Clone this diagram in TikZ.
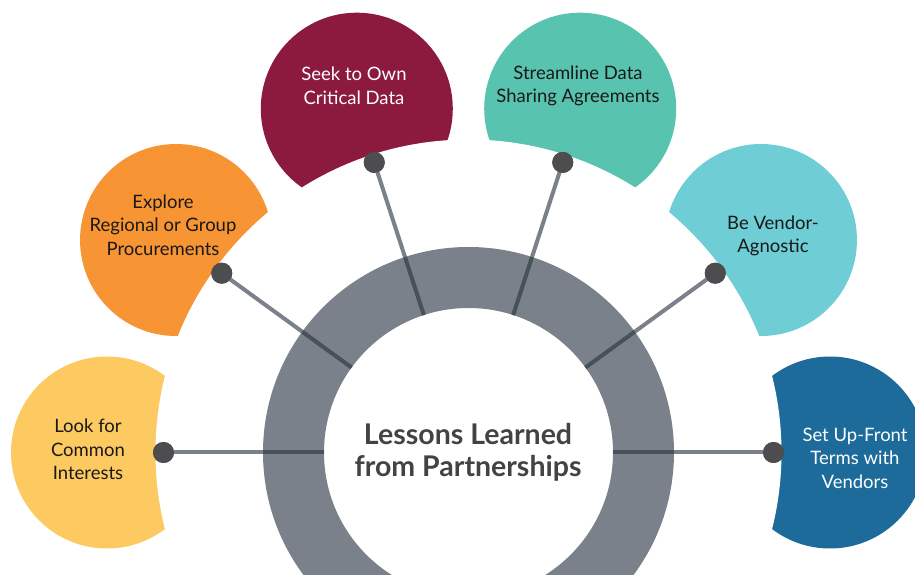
\documentclass[tikz,border=0pt]{standalone}
\usepackage{fontspec}
\setmainfont{Lato}
\definecolor{yellowc}{HTML}{FDC961}
\definecolor{orangec}{HTML}{F79433}
\definecolor{maroonc}{HTML}{8C1A3F}
\definecolor{tealc}{HTML}{58C3AF}
\definecolor{lightbluec}{HTML}{6ECDD5}
\definecolor{bluec}{HTML}{1D6B9B}
\definecolor{ringc}{HTML}{7B818A}
\definecolor{linedark}{HTML}{46515A}
\definecolor{dotc}{HTML}{4D4D4F}
\definecolor{centertext}{HTML}{434343}
\tikzset{
  dotst/.style={circle, fill=dotc, minimum size=21pt, inner sep=0pt},
  outline/.style={draw=ringc, line width=4pt},
  inline/.style={draw=linedark, line width=4pt},
  ptext/.style={align=center, font=\fontsize{18.5}{23.5}\selectfont, text=black!90},
  ctext/.style={align=center, font=\fontsize{28.5}{32}\selectfont\bfseries, text=centertext}
}
\begin{document}
\begin{tikzpicture}[x=1pt,y=1pt]
\useasboundingbox (0,0) rectangle (915,575);
\clip (0,0) rectangle (915,575);
\begin{scope}[shift={(468.5,122.5)}]
  % petals
  \fill[yellowc] (180:361.5) circle (96);
  \fill[orangec] (144:361.5) circle (96);
  \fill[maroonc] (108:361.5) circle (96);
  \fill[tealc] (72:361.5) circle (96);
  \fill[lightbluec] (36:361.5) circle (96);
  \fill[bluec] (0:361.5) circle (96);
  % concave cut
  \fill[white] (0,0) circle (313);
  % ring
  \node[circle, minimum size=289pt, inner sep=0pt] (center) at (0,0) {};
  \fill[ringc, even odd rule] (0,0) circle (205.5) (0,0) circle (144.5);
  % connectors
  \foreach \a/\n in {180/A,144/B,108/C,72/D,36/E,0/F}{
    \coordinate (rim\n) at (\a:205.5);
    \coordinate (in\n) at (\a:144.5);
    \node[dotst] (dot\n) at (\a:305) {};
  }
  \foreach \n in {A,B,C,D,E,F}{
    \draw[outline] (dot\n.center) -- (rim\n);
    \draw[inline] (rim\n) -- (in\n);
    \node[dotst] at (dot\n) {};
  }
\end{scope}
% texts
\node[ptext] (tA) at (88,125.5) {Look for\\Common\\Interests};
\node[ptext] (tB) at (163,350) {Explore\\Regional or Group\\Procurements};
\node[ptext, text=white] (tC) at (354,489) {Seek to Own\\Critical Data};
\node[ptext] (tD) at (578,489) {Streamline Data\\Sharing Agreements};
\node[ptext] (tE) at (773,339) {Be Vendor-\\Agnostic};
\node[ptext, text=white] (tF) at (855,117) {Set Up-Front\\Terms with\\Vendors};
\node[ctext] (ctr) at (468,123) {Lessons Learned\\from Partnerships};
\end{tikzpicture}
\end{document}
